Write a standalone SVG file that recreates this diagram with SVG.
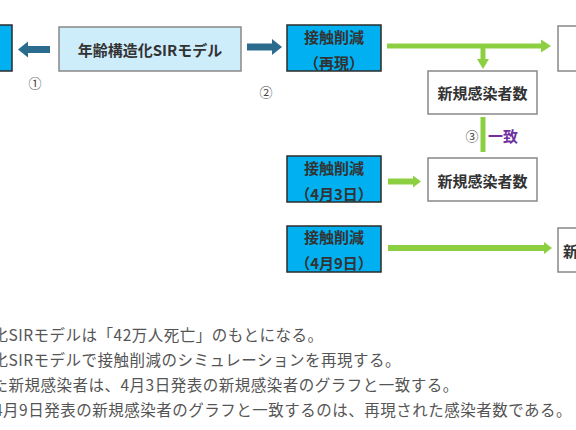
<svg xmlns="http://www.w3.org/2000/svg" width="576" height="430" viewBox="0 0 576 430">
<style>
.lbl{font-family:"Noto Sans CJK JP","Noto Sans",sans-serif;font-weight:700;font-size:15px;fill:#333;text-anchor:middle;dominant-baseline:central}
.num{font-family:"Noto Sans CJK JP","DejaVu Sans",sans-serif;font-size:13px;fill:#444;text-anchor:middle;dominant-baseline:central}
.note{font-family:"Noto Sans CJK JP","Noto Sans",sans-serif;font-size:15.5px;letter-spacing:0.5px;fill:#555}
.blue{fill:#00b0f0;stroke:#2b2b2b;stroke-width:1.5}
.white{fill:#fff;stroke:#888;stroke-width:1.5}
.green{stroke:#8cd042;stroke-width:5;fill:none}
.gh{fill:#8cd042}
.bh{fill:#2b6c8e}
</style>
<rect width="576" height="430" fill="#fff"/>
<g id="left-box"><rect class="blue" x="-2" y="25" width="14" height="46"/></g>
<g id="sir-model">
<rect x="59" y="27" width="182" height="44" fill="#cdedfb" stroke="#888" stroke-width="1.5"/>
<text class="lbl" x="150" y="49">年齢構造化SIRモデル</text>
</g>
<g id="contact-repro">
<rect class="blue" x="287" y="25" width="94" height="46"/>
<text class="lbl" x="334" y="36">接触削減</text>
<text class="lbl" x="334" y="62">（再現）</text>
</g>
<g id="contact-0403">
<rect class="blue" x="287" y="156" width="94" height="46"/>
<text class="lbl" x="334" y="167">接触削減</text>
<text class="lbl" x="334" y="193">（4月3日）</text>
</g>
<g id="contact-0409">
<rect class="blue" x="287" y="226" width="94" height="46"/>
<text class="lbl" x="334" y="236">接触削減</text>
<text class="lbl" x="334" y="262">（4月9日）</text>
</g>
<g id="new-cases-1">
<rect class="white" x="428" y="71" width="109" height="43"/>
<text class="lbl" x="482.5" y="92.5">新規感染者数</text>
</g>
<g id="new-cases-2">
<rect class="white" x="428" y="158" width="109" height="43"/>
<text class="lbl" x="482.5" y="180">新規感染者数</text>
</g>
<g id="right-box-1"><rect class="white" x="558" y="26" width="24" height="45"/></g>
<g id="right-box-2">
<rect class="white" x="558" y="228" width="24" height="44"/>
<text class="lbl" x="563" y="250" style="text-anchor:start">新</text>
</g>
<g id="connectors">
<rect class="bh" x="27" y="46" width="23" height="7"/>
<polygon class="bh" points="18,49.5 28,41.5 28,57.5"/>
<rect class="bh" x="247" y="43.5" width="26" height="7"/>
<polygon class="bh" points="282,47 272,39 272,55"/>
<line class="green" x1="387" y1="46" x2="543" y2="46"/>
<polygon class="gh" points="551,46 541,39.5 541,52.5"/>
<line class="green" x1="483" y1="46" x2="483" y2="61"/>
<polygon class="gh" points="483,69 477,59 489,59"/>
<line class="green" x1="483" y1="117" x2="483" y2="152"/>
<line class="green" x1="388" y1="181.5" x2="413" y2="181.5" style="stroke-width:6"/>
<polygon class="gh" points="421,181.5 413,175.5 413,187.5"/>
<line class="green" x1="388" y1="248" x2="544" y2="248" style="stroke-width:6"/>
<polygon class="gh" points="552,248 544,242 544,254"/>
</g>
<text class="num" x="35" y="82">①</text>
<text class="num" x="266" y="91">②</text>
<text class="num" x="472" y="135">③</text>
<text class="lbl" x="503" y="135" style="fill:#7030a0">一致</text>
<text class="note" x="-7.5" y="341">化SIRモデルは「42万人死亡」のもとになる。</text>
<text class="note" x="-7.5" y="366">化SIRモデルで接触削減のシミュレーションを再現する。</text>
<text class="note" x="-7.5" y="391">た新規感染者は、4月3日発表の新規感染者のグラフと一致する。</text>
<text class="note" x="-6" y="416">4月9日発表の新規感染者のグラフと一致するのは、再現された感染者数である。</text>
</svg>
